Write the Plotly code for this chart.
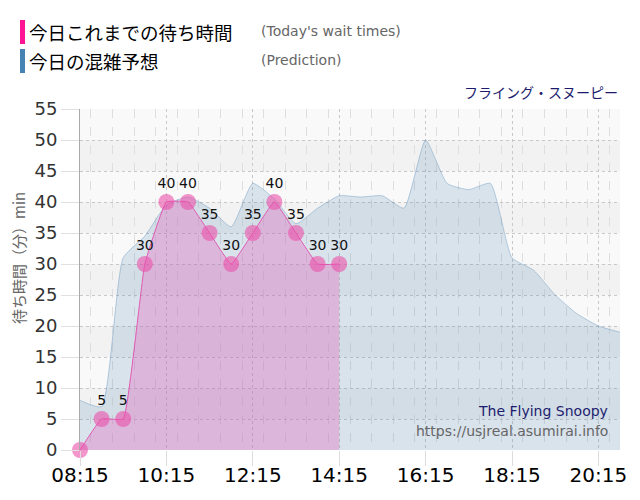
import plotly.graph_objects as go

# --- data ---
day = "2024-01-01 "
wait_times = ["08:15", "08:45", "09:15", "09:45", "10:15", "10:45", "11:15",
              "11:45", "12:15", "12:45", "13:15", "13:45", "14:15"]
wait_values = [0, 5, 5, 30, 40, 40, 35, 30, 35, 40, 35, 30, 30]

pred_times = ["08:15", "08:45", "09:15", "09:45", "10:15", "10:45", "11:15",
              "11:45", "12:15", "12:45", "13:15", "13:45", "14:15", "14:45",
              "15:15", "15:45", "16:15", "16:45", "17:15", "17:45", "18:15",
              "18:45", "19:15", "19:45", "20:15", "20:45"]
pred_values = [8, 7, 31, 34.5, 39.5, 40.8, 39, 36, 43, 40.5, 36.5, 39, 41,
               40.8, 41, 39, 50, 43, 42, 43, 31, 29, 25, 22, 20, 19]

y_ticks = list(range(0, 56, 5))

# plot area in pixels (for placing the decorations)
L, R, T, B = 80, 620, 109, 450
def px(x): return (x - L) / (R - L)
def py(y): return (B - y) / (B - T)

fig = go.Figure()

fig.add_trace(go.Scatter(
    x=[day + t for t in pred_times], y=pred_values,
    mode="lines", line=dict(color="rgba(70,130,180,0.35)", width=1, shape="spline", smoothing=0.5),
    fill="tozeroy", fillcolor="rgba(70,130,180,0.18)", hoverinfo="skip", showlegend=False))

# no label on the zero point, like the original
labels = [str(v) if v else "" for v in wait_values]
fig.add_trace(go.Scatter(
    x=[day + t for t in wait_times], y=wait_values,
    mode="lines+markers+text", text=labels, textposition="top center",
    textfont=dict(family="DejaVu Sans", size=14, color="#111"),
    line=dict(color="rgba(225,70,170,0.85)", width=1, shape="spline", smoothing=0.3),
    marker=dict(size=16, color="rgba(235,80,170,0.6)", line=dict(width=0)),
    fill="tozeroy", fillcolor="rgba(230,100,190,0.35)", cliponaxis=False, showlegend=False))

# alternating horizontal bands
shapes = []
for lo in range(5, 55, 10):
    shapes.append(dict(type="rect", xref="paper", yref="y", x0=0, x1=1, y0=lo, y1=lo + 5,
                       fillcolor="#f2f2f2", line=dict(width=0), layer="below"))
# legend bars
shapes.append(dict(type="rect", xref="paper", yref="paper", x0=px(20), x1=px(25), y0=py(44), y1=py(20),
                   fillcolor="#ff1493", line=dict(width=0)))
shapes.append(dict(type="rect", xref="paper", yref="paper", x0=px(20), x1=px(25), y0=py(73), y1=py(49),
                   fillcolor="#4682b4", line=dict(width=0)))

jp = "Noto Sans CJK JP"
ann = [
    dict(text="今日これまでの待ち時間", x=px(27), y=py(32), xanchor="left", font=dict(family=jp, size=18.5, color="#000")),
    dict(text="今日の混雑予想", x=px(27), y=py(61), xanchor="left", font=dict(family=jp, size=18.5, color="#000")),
    dict(text="(Today's wait times)", x=px(259), y=py(31), xanchor="left", font=dict(family="DejaVu Sans", size=14, color="#666")),
    dict(text="(Prediction)", x=px(259), y=py(60), xanchor="left", font=dict(family="DejaVu Sans", size=14, color="#666")),
    dict(text="フライング・スヌーピー", x=px(620), y=py(92), xanchor="right", font=dict(family=jp, size=14, color="#1c1c6e")),
    dict(text="The Flying Snoopy", x=px(610), y=py(411), xanchor="right", font=dict(family="DejaVu Sans", size=14, color="#1c1c6e")),
    dict(text="https://usjreal.asumirai.info", x=px(610), y=py(431), xanchor="right", font=dict(family="DejaVu Sans", size=14, color="#666")),
    dict(text="待ち時間（分）min", x=px(18), y=py(258), xanchor="center", textangle=-90, font=dict(family=jp, size=15, color="#666")),
]
for a in ann:
    a.update(xref="paper", yref="paper", showarrow=False, yanchor="middle")

fig.update_layout(
    width=640, height=500,
    margin=dict(l=L, r=640 - R, t=T, b=500 - B, autoexpand=False),
    paper_bgcolor="white", plot_bgcolor="#f9f9f9",
    shapes=shapes, annotations=ann,
    xaxis=dict(
        type="date", range=[day + "08:15", day + "20:45"],
        tick0=day + "08:15", dtick=2 * 3600 * 1000, tickformat="%H:%M",
        tickfont=dict(family="DejaVu Sans", size=20, color="#000"),
        ticks="outside", ticklen=15, tickcolor="#ddd", ticklabelstandoff=-8,
        showgrid=True, gridcolor="#c8c8c8", griddash="dot", gridwidth=1,
        minor=dict(dtick=30 * 60 * 1000, showgrid=True, gridcolor="#dedede", griddash="dash", gridwidth=1),
        showline=False, zeroline=False, automargin=False),
    yaxis=dict(
        range=[0, 55], tickvals=y_ticks,
        tickfont=dict(family="DejaVu Sans", size=18, color="#333"),
        ticks="outside", ticklen=18, tickcolor="#e0e0e0",
        showgrid=True, gridcolor="#c8c8c8", griddash="dot", gridwidth=1,
        showline=True, linecolor="#aaa", linewidth=1, zeroline=False, automargin=False),
)

# drop the page's default 8px body margin so the chart sits at the window origin
fig.write_html("out.html", config={"displayModeBar": False},
               post_script="document.body.style.margin='0';")
